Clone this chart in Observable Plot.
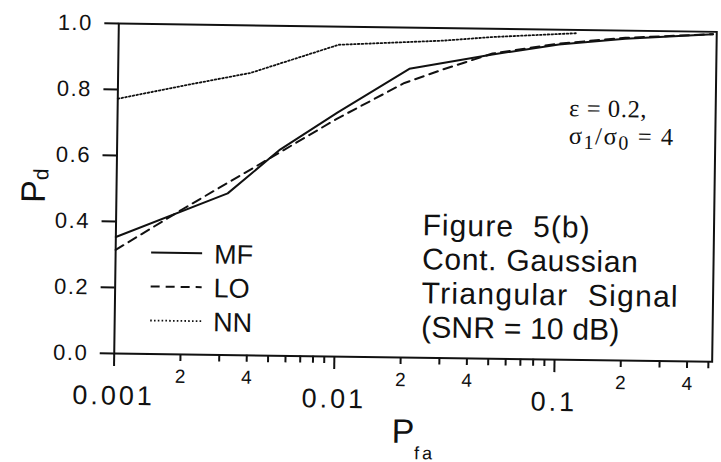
<!DOCTYPE html>
<html>
<head>
<meta charset="utf-8">
<script src="https://cdn.jsdelivr.net/npm/d3@7"></script>
<script src="https://cdn.jsdelivr.net/npm/@observablehq/plot@0.6"></script>
<style>
  html, body { margin: 0; padding: 0; background: #fff; }
  #chart { width: 721px; height: 462px; overflow: hidden; }
  #chart svg { display: block; transform: rotate(0.8deg); transform-origin: 116px 190px; }
  #chart svg g.y-ticklabels text { letter-spacing: 1.5px; }
  #chart svg g.major-x text { letter-spacing: 3px; }
</style>
</head>
<body>
<div id="chart"></div>
<script>
// Detection probability vs false-alarm probability for three detectors
const pfaMF = [0.001, 0.0032, 0.0055, 0.01, 0.021, 0.05, 0.1, 0.2, 0.5];
const pdMF  = [0.353, 0.49, 0.625, 0.74, 0.875, 0.922, 0.955, 0.975, 0.993];

const pfaLO = [0.001, 0.002, 0.005, 0.01, 0.02, 0.03, 0.05, 0.1, 0.2, 0.5];
const pdLO  = [0.314, 0.44, 0.60, 0.722, 0.832, 0.875, 0.925, 0.958, 0.978, 0.993];

const pfaNN = [0.001, 0.002, 0.004, 0.01, 0.03, 0.05, 0.12];
const pdNN  = [0.772, 0.815, 0.856, 0.945, 0.962, 0.975, 0.99];

// Axis ticks
const xMajorTicks   = [0.001, 0.01, 0.1];
const xMinorLabeled = [0.002, 0.004, 0.006, 0.008, 0.02, 0.04, 0.06, 0.08, 0.2, 0.4];
const xMinorPlain   = [0.003, 0.005, 0.007, 0.009, 0.03, 0.05, 0.07, 0.09, 0.3, 0.5];
const yTicks        = [0, 0.2, 0.4, 0.6, 0.8, 1.0];

// Legend and annotation text
const seriesNames = ["MF", "LO", "NN"];
const noteLines = ["Figure  5(b)", "Cont. Gaussian", "Triangular  Signal", "(SNR = 10 dB)"];
const noteSpacing = [1.1, 0.7, 1.3, 0.2];

const toRows = (xs, ys) => xs.map((x, i) => ({pfa: x, pd: ys[i]}));
const mfRows = toRows(pfaMF, pdMF);
const loRows = toRows(pfaLO, pdLO);
const nnRows = toRows(pfaNN, pdNN);

// leading digit of a minor tick value (0.004 -> 4)
const mantissa = d => Math.round(d / Math.pow(10, Math.floor(Math.log10(d) + 1e-9)));

const ink = "#111";
const dashes = {MF: null, LO: "9,6", NN: "1.6,2.2"};
const widths = {MF: 2, LO: 2, NN: 1.8};

const chart = Plot.plot({
  width: 721,
  height: 462,
  marginLeft: 116,
  marginRight: 7,
  marginTop: 23,
  marginBottom: 109,
  style: {fontFamily: "'Liberation Sans', Arial, sans-serif", color: ink, background: "white", overflow: "visible"},
  x: {type: "log", domain: [0.001, 0.52]},
  y: {domain: [0, 1]},
  marks: [
    Plot.line(nnRows, {x: "pfa", y: "pd", stroke: ink, strokeWidth: widths.NN, strokeDasharray: dashes.NN}),
    Plot.line(loRows, {x: "pfa", y: "pd", stroke: ink, strokeWidth: widths.LO, strokeDasharray: dashes.LO}),
    Plot.line(mfRows, {x: "pfa", y: "pd", stroke: ink, strokeWidth: widths.MF}),
    Plot.frame({stroke: ink, strokeWidth: 2}),
    Plot.axisY({ticks: yTicks, tickFormat: d3.format(".1f"), tickSize: 14, tickPadding: 12,
                fontSize: 22, strokeWidth: 2, label: null, className: "y-ticklabels"}),
    Plot.axisX({ticks: xMajorTicks, tickFormat: d => String(d), tickSize: 13, tickPadding: 19,
                fontSize: 27, strokeWidth: 2, label: null, className: "major-x"}),
    Plot.axisX({ticks: xMinorLabeled, tickFormat: mantissa, tickSize: 7, tickPadding: 8,
                fontSize: 19, strokeWidth: 2, label: null}),
    Plot.axisX({ticks: xMinorPlain, tickFormat: () => "", tickSize: 7,
                strokeWidth: 2, label: null})
  ]
});

document.getElementById("chart").append(chart);

const svg = d3.select(chart);
const sans = "'Liberation Sans', Arial, sans-serif";
const serif = "'Liberation Serif', 'Times New Roman', serif";

// Axis titles with subscripts
const xt = svg.append("text").attr("x", 395).attr("y", 439).attr("text-anchor", "start")
  .attr("font-family", sans).attr("font-size", 34).attr("fill", ink);
xt.append("tspan").text("P");
xt.append("tspan").attr("dy", 16).attr("font-size", 18).attr("letter-spacing", 3).text("fa");

const yt = svg.append("text").attr("transform", "translate(45,204) rotate(-90)").attr("text-anchor", "start")
  .attr("font-family", sans).attr("font-size", 34).attr("fill", ink);
yt.append("tspan").text("P");
yt.append("tspan").attr("dy", 3).attr("font-size", 21).text("d");

// Legend
const legend = svg.append("g").attr("font-family", sans).attr("fill", ink).attr("text-anchor", "start");
seriesNames.forEach((name, i) => {
  const y = 252 + i * 34;
  legend.append("line").attr("x1", 152).attr("x2", 203).attr("y1", y).attr("y2", y)
    .attr("stroke", ink).attr("stroke-width", widths[name])
    .attr("stroke-dasharray", dashes[name]);
  legend.append("text").attr("x", 215).attr("y", y + 10).attr("font-size", 27).text(name);
});

// Figure note block
const note = svg.append("g").attr("font-family", sans).attr("font-size", 30).attr("fill", ink)
  .attr("text-anchor", "start").style("white-space", "pre");
noteLines.forEach((line, i) => {
  note.append("text").attr("x", 423).attr("y", 231 + i * 34)
    .attr("letter-spacing", noteSpacing[i]).text(line);
});

// Parameter annotation
const params = svg.append("g").attr("font-family", serif).attr("font-size", 24.5).attr("fill", ink)
  .attr("text-anchor", "start");
params.append("text").attr("x", 568).attr("y", 110).attr("letter-spacing", 0.6).text("\u03b5 = 0.2,");
const p2 = params.append("text").attr("x", 568).attr("y", 137.5).attr("letter-spacing", 1.6);
p2.append("tspan").text("\u03c3");
p2.append("tspan").attr("dy", 5).attr("font-size", 20).text("1");
p2.append("tspan").attr("dy", -5).text("/\u03c3");
p2.append("tspan").attr("dy", 5).attr("font-size", 20).text("0");
p2.append("tspan").attr("dy", -5).text(" = 4");
</script>
</body>
</html>
